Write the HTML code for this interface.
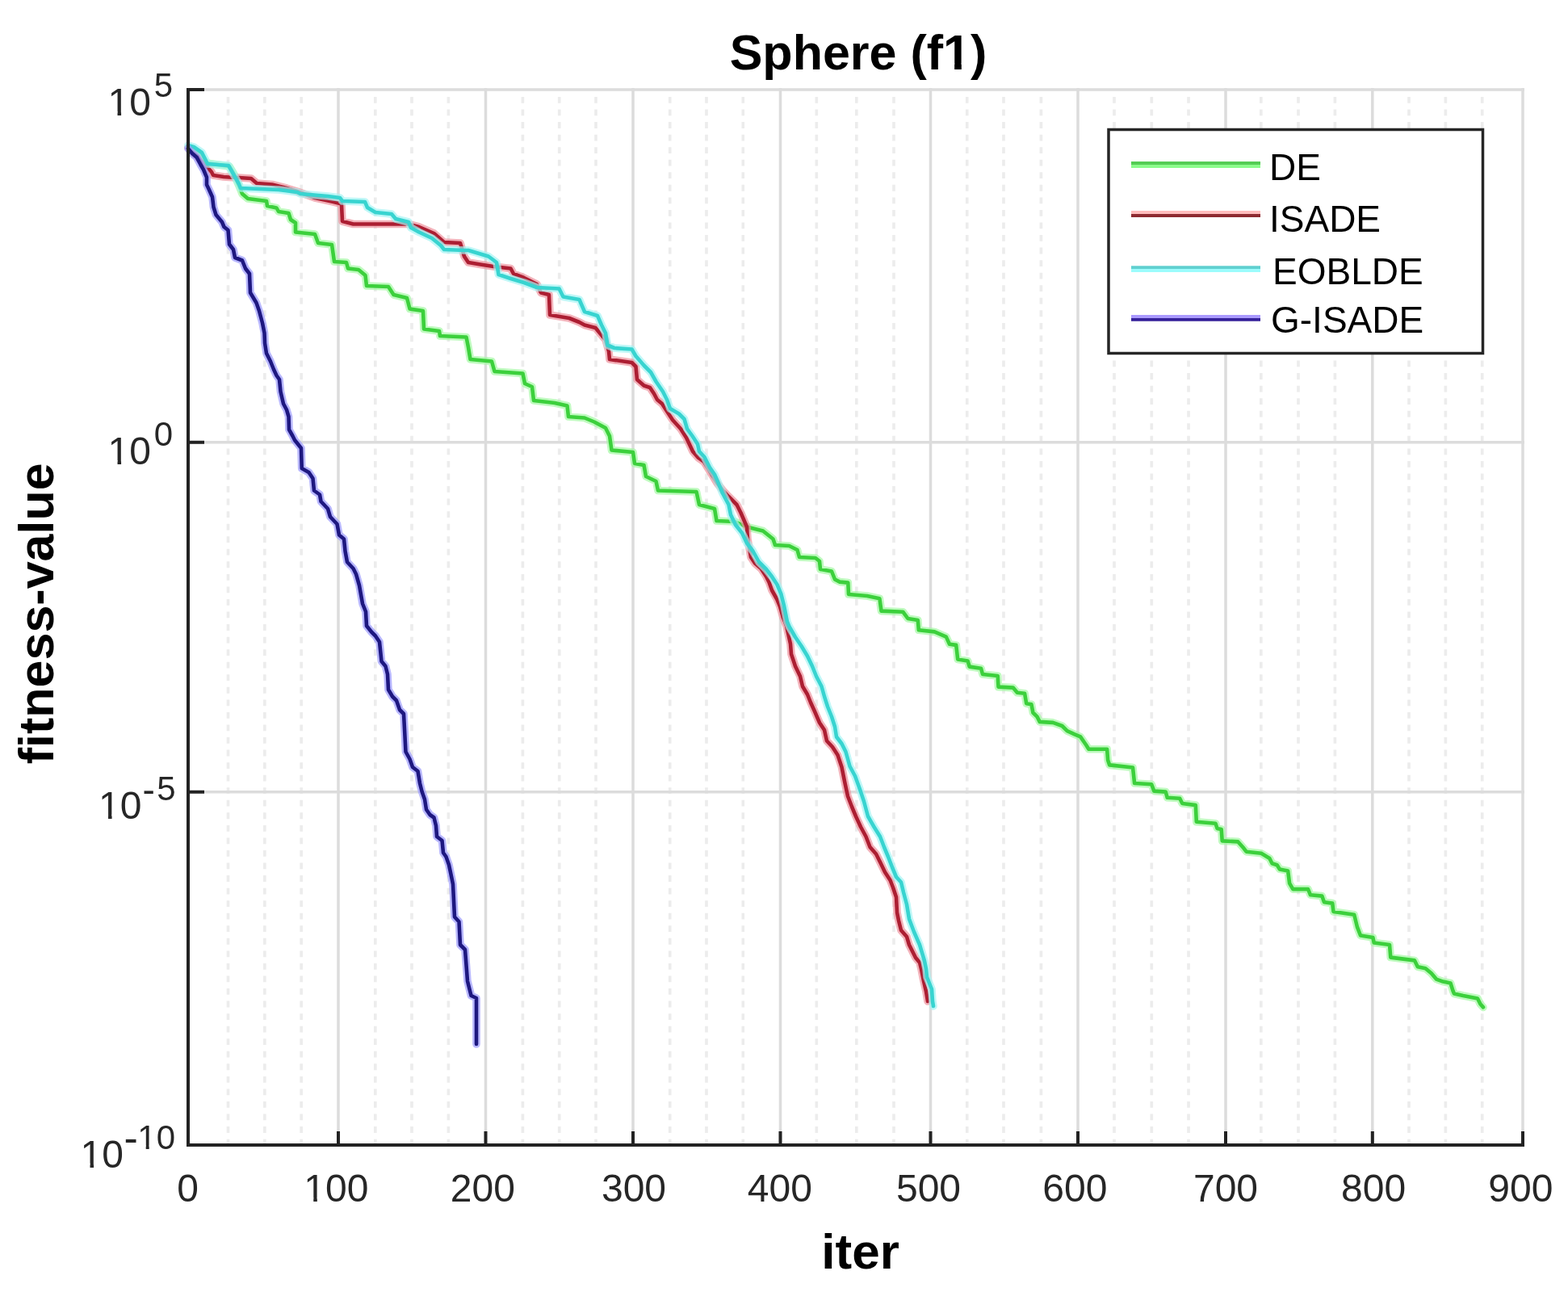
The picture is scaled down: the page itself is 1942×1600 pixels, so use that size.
<!DOCTYPE html>
<html><head><meta charset="utf-8"><title>Sphere (f1)</title>
<style>html,body{margin:0;padding:0;background:#fff;overflow:hidden}svg{display:block}</style>
</head><body>
<svg width="1942" height="1600" viewBox="0 0 1942 1600">
<rect width="100%" height="100%" fill="#fff"/>
<path d="M282.5 120V1416.0M327.8 120V1416.0M373.2 120V1416.0M464.8 120V1416.0M510.0 120V1416.0M555.4 120V1416.0M647.4 120V1416.0M692.7 120V1416.0M738.0 120V1416.0M829.7 120V1416.0M875.0 120V1416.0M920.3 120V1416.0M1011.3 120V1416.0M1060.8 120V1416.0M1107.0 120V1416.0M1197.7 120V1416.0M1243.0 120V1416.0M1289.4 120V1416.0M1380.0 120V1416.0M1426.3 120V1416.0M1472.0 120V1416.0M1561.8 120V1416.0M1608.0 120V1416.0M1653.4 120V1416.0M1745.0 120V1416.0M1790.4 120V1416.0M1835.7 120V1416.0" stroke="#ececec" stroke-width="3.6" stroke-dasharray="7.8 7.75" fill="none"/>
<path d="M419.0 109.0V1418.0M601.5 109.0V1418.0M784.0 109.0V1418.0M966.5 109.0V1418.0M1152.5 109.0V1418.0M1335.0 109.0V1418.0M1518.0 109.0V1418.0M1699.8 109.0V1418.0M1886.0 109.0V1418.0M233.0 111.0H1888.0M233.0 547.7H1888.0M233.0 980.8H1888.0" stroke="#dcdcdc" stroke-width="3.5" fill="none"/>
<path d="M233 183L245 191L256 202L284 206L290 216L296 230L300 240L307 246L330 249L331 255L342.5 257.5L345 262L357.5 264L360 272L366 276L366 287.5L390 290L394 301L411 303L414 324L429 325L431 332.5L444 334L452.5 341L454 354L481 355L487.5 365L504 369L507.5 382.5L524 385L525 407.5L544 410L545 416L577.5 417.5L580 430L582.5 445L609 447.5L612.5 460L647.5 462.5L650 475L659 479L661 496L687 499L702.5 502.5L704 516L724 517.5L736 522.5L750 530L755 540L757.5 557.5L784 560L786 574L797.5 576L800 590L812.5 596L815 607.5L862.5 609L866 625L885 630L887.5 645L910 646L925 652.5L945 657.5L957.5 667.5L960 675L977.5 676L987.5 681L990 690L1010 691L1015 695L1016 705L1030 707.5L1034 717.5L1040 720.6L1050.3 721.6L1051 736L1074 738L1089.4 741.2L1091.5 756.6L1118.3 757.7L1124.4 766L1136.8 768L1137.8 780.3L1157.4 782.4L1171.8 788.6L1176 797.8L1184.2 798.9L1186.2 816.4L1198.6 818.4L1200.7 825.6L1215 827.7L1217 835L1235.7 837L1236.5 850.6L1254.7 851.6L1259.9 857.8L1269.1 858.8L1271.2 871.2L1277.4 872.2L1279.4 882.5L1284.6 887.7L1287.7 893.9L1304.2 894.9L1315.5 899L1321.7 905.2L1330.9 909.3L1338.1 912.4L1345.3 922.7L1348.4 927.8L1371.1 927.8L1372.1 941.2L1374.2 947.4L1403 950.5L1405.1 970L1426.2 971.3L1429.3 979.6L1443.7 980.6L1445.7 987.8L1461.2 988.8L1464.3 995L1480.8 997.1L1481.8 1017.7L1505.5 1019.7L1507.5 1025.9L1512.7 1026.9L1513.7 1041.4L1533.3 1042.4L1540.5 1050.6L1543.6 1054.7L1562.1 1056.8L1572.4 1063L1575.5 1069.2L1581.7 1071.2L1584.8 1076.4L1595.1 1078.4L1597.1 1093.9L1601.3 1101.1L1620 1101L1623 1108.3L1637.3 1109.6L1640 1117.3L1650.2 1118.6L1651.5 1129L1677.2 1132.8L1681 1148.2L1685 1158.5L1700.4 1161L1701.7 1167.5L1721 1170L1722.3 1185.6L1752 1189.4L1755.8 1197.2L1765.5 1199.2L1772.7 1205.3L1778.9 1212.6L1787.1 1215.6L1796.5 1217.5L1799.5 1227L1801 1230.5L1812 1233L1830 1236.5L1833.5 1243.5L1837 1247.4" fill="none" stroke="#a4f8a4" stroke-width="9.6" stroke-linejoin="round" stroke-linecap="round" opacity="0.7"/>
<path d="M233 183L245 191L256 202L284 206L290 216L296 230L300 240L307 246L330 249L331 255L342.5 257.5L345 262L357.5 264L360 272L366 276L366 287.5L390 290L394 301L411 303L414 324L429 325L431 332.5L444 334L452.5 341L454 354L481 355L487.5 365L504 369L507.5 382.5L524 385L525 407.5L544 410L545 416L577.5 417.5L580 430L582.5 445L609 447.5L612.5 460L647.5 462.5L650 475L659 479L661 496L687 499L702.5 502.5L704 516L724 517.5L736 522.5L750 530L755 540L757.5 557.5L784 560L786 574L797.5 576L800 590L812.5 596L815 607.5L862.5 609L866 625L885 630L887.5 645L910 646L925 652.5L945 657.5L957.5 667.5L960 675L977.5 676L987.5 681L990 690L1010 691L1015 695L1016 705L1030 707.5L1034 717.5L1040 720.6L1050.3 721.6L1051 736L1074 738L1089.4 741.2L1091.5 756.6L1118.3 757.7L1124.4 766L1136.8 768L1137.8 780.3L1157.4 782.4L1171.8 788.6L1176 797.8L1184.2 798.9L1186.2 816.4L1198.6 818.4L1200.7 825.6L1215 827.7L1217 835L1235.7 837L1236.5 850.6L1254.7 851.6L1259.9 857.8L1269.1 858.8L1271.2 871.2L1277.4 872.2L1279.4 882.5L1284.6 887.7L1287.7 893.9L1304.2 894.9L1315.5 899L1321.7 905.2L1330.9 909.3L1338.1 912.4L1345.3 922.7L1348.4 927.8L1371.1 927.8L1372.1 941.2L1374.2 947.4L1403 950.5L1405.1 970L1426.2 971.3L1429.3 979.6L1443.7 980.6L1445.7 987.8L1461.2 988.8L1464.3 995L1480.8 997.1L1481.8 1017.7L1505.5 1019.7L1507.5 1025.9L1512.7 1026.9L1513.7 1041.4L1533.3 1042.4L1540.5 1050.6L1543.6 1054.7L1562.1 1056.8L1572.4 1063L1575.5 1069.2L1581.7 1071.2L1584.8 1076.4L1595.1 1078.4L1597.1 1093.9L1601.3 1101.1L1620 1101L1623 1108.3L1637.3 1109.6L1640 1117.3L1650.2 1118.6L1651.5 1129L1677.2 1132.8L1681 1148.2L1685 1158.5L1700.4 1161L1701.7 1167.5L1721 1170L1722.3 1185.6L1752 1189.4L1755.8 1197.2L1765.5 1199.2L1772.7 1205.3L1778.9 1212.6L1787.1 1215.6L1796.5 1217.5L1799.5 1227L1801 1230.5L1812 1233L1830 1236.5L1833.5 1243.5L1837 1247.4" fill="none" stroke="#3cd03c" stroke-width="4.6" stroke-linejoin="round" stroke-linecap="round"/>
<path d="M233 183L245 195L255 205L262 213L264 217L277 219L284 219.5L296 220L311 221L318 227L337 228.5L355 233L368 237L390 245L413 250L421 252L423 253L424 274L437.5 277.5L487.5 277.5L506 277.5L519 281L537.5 289L550 300L570 301L575 317.5L580 325L595 327.5L611 330L632.5 332.5L636 339L649 344L665 352L670 362.5L680 365L681 390L705 394L717.5 399L724 402.5L737.5 406L745 415L750 421L754 435L755 445L782.5 449L787.5 454L789 470L797.5 477.5L805 480L810 487.5L814 495L820 500L833 520L843 531L850 542L858 559L865 567L872 572L880 585L888 598L895 607L902.5 615L912.5 625L917.5 635L925 652.5L926 667.5L930 690L935 697.5L942.5 704L949 714L952.5 721L956 731L962.5 742.5L966 751L970 765L974 775L979 797.5L980 810L985 825L991 837.5L994 850L1000 860L1004 870L1009 881L1015 895L1021 904L1024 917.5L1031 925L1037.5 935L1042.5 950L1046 967.5L1050 986L1055 999L1060 1011L1066 1024L1072.5 1036L1077.5 1049L1085 1057.5L1090 1067.5L1096 1080L1102.5 1090L1106 1099L1110 1111L1111 1130L1113 1140L1116 1152L1123 1160L1126 1170L1131 1180L1134 1186L1139 1192L1141 1200L1144 1215L1147 1228L1149 1240" fill="none" stroke="#ee929c" stroke-width="9.6" stroke-linejoin="round" stroke-linecap="round" opacity="0.7"/>
<path d="M233 183L245 195L255 205L262 213L264 217L277 219L284 219.5L296 220L311 221L318 227L337 228.5L355 233L368 237L390 245L413 250L421 252L423 253L424 274L437.5 277.5L487.5 277.5L506 277.5L519 281L537.5 289L550 300L570 301L575 317.5L580 325L595 327.5L611 330L632.5 332.5L636 339L649 344L665 352L670 362.5L680 365L681 390L705 394L717.5 399L724 402.5L737.5 406L745 415L750 421L754 435L755 445L782.5 449L787.5 454L789 470L797.5 477.5L805 480L810 487.5L814 495L820 500L833 520L843 531L850 542L858 559L865 567L872 572L880 585L888 598L895 607L902.5 615L912.5 625L917.5 635L925 652.5L926 667.5L930 690L935 697.5L942.5 704L949 714L952.5 721L956 731L962.5 742.5L966 751L970 765L974 775L979 797.5L980 810L985 825L991 837.5L994 850L1000 860L1004 870L1009 881L1015 895L1021 904L1024 917.5L1031 925L1037.5 935L1042.5 950L1046 967.5L1050 986L1055 999L1060 1011L1066 1024L1072.5 1036L1077.5 1049L1085 1057.5L1090 1067.5L1096 1080L1102.5 1090L1106 1099L1110 1111L1111 1130L1113 1140L1116 1152L1123 1160L1126 1170L1131 1180L1134 1186L1139 1192L1141 1200L1144 1215L1147 1228L1149 1240" fill="none" stroke="#ac1e32" stroke-width="4.6" stroke-linejoin="round" stroke-linecap="round"/>
<path d="M233 180L240 182L250 189L257 203L283 205L287 212L296 228L298 233L345 235L353 236L368 238L372 240L406 243L421 245L424 249L452 250L455 257L465 263L485 265L490 271L506 275L509 282L519 287.5L535 295L546 304L550 309L575 310L580 310L605 317.5L615 325L617.5 340L632.5 345L649 350L665 356L692.5 357.5L697.5 367.5L717.5 371L724 386L740 391L745 402.5L750 412.5L752.5 427.5L761 431L782.5 432.5L787.5 441L797.5 452.5L806 461L812.5 472.5L821 485L826 495L830 506L841 512.5L847.5 519L851 531L857.5 540L864 550L866 559L872.5 566L879 579L885 587.5L890 599L895 611L902.5 625L905 637.5L911 650L919 660L925 672.5L932.5 682.5L940 696L949 705L956 714L962.5 724L967.5 736L971 750L975 770L977.5 776L985 789L992.5 800L1000 812.5L1006 825L1011 837.5L1017.5 850L1021 862.5L1025 875L1030 887.5L1034 900L1036 912.5L1042.5 921L1047.5 931L1052.5 949L1059 961L1065 977.5L1070 992.5L1075 1011L1082.5 1024L1090 1036L1095 1049L1100 1061L1105 1074L1110 1086L1116 1092.5L1119 1105L1123 1120L1126 1138L1132 1154L1139 1170L1145 1190L1147 1200L1148 1210L1154 1225L1155 1240L1156 1246" fill="none" stroke="#a4f4f4" stroke-width="9.6" stroke-linejoin="round" stroke-linecap="round" opacity="0.7"/>
<path d="M233 180L240 182L250 189L257 203L283 205L287 212L296 228L298 233L345 235L353 236L368 238L372 240L406 243L421 245L424 249L452 250L455 257L465 263L485 265L490 271L506 275L509 282L519 287.5L535 295L546 304L550 309L575 310L580 310L605 317.5L615 325L617.5 340L632.5 345L649 350L665 356L692.5 357.5L697.5 367.5L717.5 371L724 386L740 391L745 402.5L750 412.5L752.5 427.5L761 431L782.5 432.5L787.5 441L797.5 452.5L806 461L812.5 472.5L821 485L826 495L830 506L841 512.5L847.5 519L851 531L857.5 540L864 550L866 559L872.5 566L879 579L885 587.5L890 599L895 611L902.5 625L905 637.5L911 650L919 660L925 672.5L932.5 682.5L940 696L949 705L956 714L962.5 724L967.5 736L971 750L975 770L977.5 776L985 789L992.5 800L1000 812.5L1006 825L1011 837.5L1017.5 850L1021 862.5L1025 875L1030 887.5L1034 900L1036 912.5L1042.5 921L1047.5 931L1052.5 949L1059 961L1065 977.5L1070 992.5L1075 1011L1082.5 1024L1090 1036L1095 1049L1100 1061L1105 1074L1110 1086L1116 1092.5L1119 1105L1123 1120L1126 1138L1132 1154L1139 1170L1145 1190L1147 1200L1148 1210L1154 1225L1155 1240L1156 1246" fill="none" stroke="#38d4d0" stroke-width="4.6" stroke-linejoin="round" stroke-linecap="round"/>
<path d="M233 184L238 190L243.5 194.7L248.5 204L252 210L256 219.5L256 228.7L259 235L263 244L264.5 256.5L267.5 266L275 275L277.5 281L282.5 285L284 302.5L289 309L291 319L300 322.5L304 332.5L309 339L310 362.5L317.5 375L321 385L325 400L327.5 412.5L328 425L330 437.5L335 447.5L339 457.5L342.5 465L346 470L347.5 485L351 500L355 507.5L357.5 516L358 532L362.5 540L365 545L373 555L373.75 580L382.5 585L387.5 592.5L389 607.5L396 612.5L397.5 621L406 630L409 640L417.5 649L420 662.5L426 667.5L427.5 682.5L430 696L437.5 704L441 711L445 725L449 747.5L453 757.5L454 775L460 782.5L465 787.5L470 795L472.5 819L477.5 825L480 835L481 854L486 862.5L491 867.5L495 879L500 884L502.5 931L507.5 940L511 950L517.5 955L520 970L522.5 980L526 990L528 1002.5L532.5 1009L537.5 1012.5L540 1022.5L541 1036L547.5 1041L549 1056L552.5 1061L556 1071L560 1090L561 1095L563 1135.5L568.5 1141.5L570 1170L576 1176L579 1215L583.5 1233L590 1236L590 1293" fill="none" stroke="#9a98ff" stroke-width="9.6" stroke-linejoin="round" stroke-linecap="round" opacity="0.7"/>
<path d="M233 184L238 190L243.5 194.7L248.5 204L252 210L256 219.5L256 228.7L259 235L263 244L264.5 256.5L267.5 266L275 275L277.5 281L282.5 285L284 302.5L289 309L291 319L300 322.5L304 332.5L309 339L310 362.5L317.5 375L321 385L325 400L327.5 412.5L328 425L330 437.5L335 447.5L339 457.5L342.5 465L346 470L347.5 485L351 500L355 507.5L357.5 516L358 532L362.5 540L365 545L373 555L373.75 580L382.5 585L387.5 592.5L389 607.5L396 612.5L397.5 621L406 630L409 640L417.5 649L420 662.5L426 667.5L427.5 682.5L430 696L437.5 704L441 711L445 725L449 747.5L453 757.5L454 775L460 782.5L465 787.5L470 795L472.5 819L477.5 825L480 835L481 854L486 862.5L491 867.5L495 879L500 884L502.5 931L507.5 940L511 950L517.5 955L520 970L522.5 980L526 990L528 1002.5L532.5 1009L537.5 1012.5L540 1022.5L541 1036L547.5 1041L549 1056L552.5 1061L556 1071L560 1090L561 1095L563 1135.5L568.5 1141.5L570 1170L576 1176L579 1215L583.5 1233L590 1236L590 1293" fill="none" stroke="#1e1880" stroke-width="4.6" stroke-linejoin="round" stroke-linecap="round"/>
<path d="M233.0 109.0V1418.0H1888.0M419.0 1418.0V1401.0M601.5 1418.0V1401.0M784.0 1418.0V1401.0M966.5 1418.0V1401.0M1152.5 1418.0V1401.0M1335.0 1418.0V1401.0M1518.0 1418.0V1401.0M1699.8 1418.0V1401.0M1886.0 1418.0V1401.0M233.0 111.0H253.0M233.0 547.7H253.0M233.0 980.8H253.0" stroke="#222" stroke-width="4" fill="none"/>
<text x="232.6" y="1488" font-family="Liberation Sans, Arial, sans-serif" font-size="48" fill="#262626" text-anchor="middle">0</text>
<text x="416.4" y="1488" font-family="Liberation Sans, Arial, sans-serif" font-size="48" fill="#262626" text-anchor="middle">100</text>
<text x="597.8" y="1488" font-family="Liberation Sans, Arial, sans-serif" font-size="48" fill="#262626" text-anchor="middle">200</text>
<text x="785.0" y="1488" font-family="Liberation Sans, Arial, sans-serif" font-size="48" fill="#262626" text-anchor="middle">300</text>
<text x="965.9" y="1488" font-family="Liberation Sans, Arial, sans-serif" font-size="48" fill="#262626" text-anchor="middle">400</text>
<text x="1150.0" y="1488" font-family="Liberation Sans, Arial, sans-serif" font-size="48" fill="#262626" text-anchor="middle">500</text>
<text x="1331.4" y="1488" font-family="Liberation Sans, Arial, sans-serif" font-size="48" fill="#262626" text-anchor="middle">600</text>
<text x="1518.0" y="1488" font-family="Liberation Sans, Arial, sans-serif" font-size="48" fill="#262626" text-anchor="middle">700</text>
<text x="1701.1" y="1488" font-family="Liberation Sans, Arial, sans-serif" font-size="48" fill="#262626" text-anchor="middle">800</text>
<text x="1883.4" y="1488" font-family="Liberation Sans, Arial, sans-serif" font-size="48" fill="#262626" text-anchor="middle">900</text>
<text x="187" y="143" font-family="Liberation Sans, Arial, sans-serif" font-size="48" fill="#262626" text-anchor="end">10</text>
<text x="214" y="120" font-family="Liberation Sans, Arial, sans-serif" font-size="42" fill="#262626" text-anchor="end">5</text>
<text x="187" y="575" font-family="Liberation Sans, Arial, sans-serif" font-size="48" fill="#262626" text-anchor="end">10</text>
<text x="214" y="552" font-family="Liberation Sans, Arial, sans-serif" font-size="42" fill="#262626" text-anchor="end">0</text>
<text x="175.5" y="1013.5" font-family="Liberation Sans, Arial, sans-serif" font-size="48" fill="#262626" text-anchor="end">10</text>
<text x="217.5" y="990.5" font-family="Liberation Sans, Arial, sans-serif" font-size="42" fill="#262626" text-anchor="end">5</text>
<text x="176.5" y="993.5" font-family="Liberation Sans, Arial, sans-serif" font-size="46" fill="#262626">-</text>
<text x="153" y="1445.5" font-family="Liberation Sans, Arial, sans-serif" font-size="48" fill="#262626" text-anchor="end">10</text>
<text x="217" y="1423" font-family="Liberation Sans, Arial, sans-serif" font-size="42" fill="#262626" text-anchor="end">10</text>
<text x="153.5" y="1427" font-family="Liberation Sans, Arial, sans-serif" font-size="52" fill="#262626">-</text>
<text x="1063" y="85.5" font-family="Liberation Sans, Arial, sans-serif" font-size="61" font-weight="bold" fill="#000" text-anchor="middle">Sphere (f1)</text>
<text x="1065.6" y="1571.2" font-family="Liberation Sans, Arial, sans-serif" font-size="62" font-weight="bold" fill="#000" text-anchor="middle">iter</text>
<text transform="translate(66.2 759.8) rotate(-90)" font-family="Liberation Sans, Arial, sans-serif" font-size="61" font-weight="bold" fill="#000" text-anchor="middle">fitness-value</text>
<rect x="1373" y="160.5" width="463.5" height="277" fill="#fff" stroke="#262626" stroke-width="3.5"/>
<path d="M1401 202H1561" stroke="#55cc55" stroke-width="3.8" fill="none"/>
<path d="M1401 206H1561" stroke="#8cfc8c" stroke-width="3.8" fill="none"/>
<text x="1572" y="223.2" font-family="Liberation Sans, Arial, sans-serif" font-size="46" fill="#000">DE</text>
<path d="M1401 263H1561" stroke="#ffbcbc" stroke-width="3.8" fill="none"/>
<path d="M1401 267H1561" stroke="#8e2a30" stroke-width="3.8" fill="none"/>
<text x="1572" y="287" font-family="Liberation Sans, Arial, sans-serif" font-size="46" fill="#000">ISADE</text>
<path d="M1401 331.2H1561" stroke="#60d0d0" stroke-width="3.8" fill="none"/>
<path d="M1401 335H1561" stroke="#9cfcfc" stroke-width="3.8" fill="none"/>
<text x="1576" y="351.5" font-family="Liberation Sans, Arial, sans-serif" font-size="46" fill="#000">EOBLDE</text>
<path d="M1401 392H1561" stroke="#aa9aff" stroke-width="3.8" fill="none"/>
<path d="M1401 395.8H1561" stroke="#34209a" stroke-width="3.8" fill="none"/>
<text x="1574" y="412.3" font-family="Liberation Sans, Arial, sans-serif" font-size="46" fill="#000">G-ISADE</text>
<rect x="379.01" y="1483.21" width="9.26" height="5.79" fill="#fff"/>
<rect x="392.82" y="1483.21" width="8.89" height="5.79" fill="#fff"/>
<rect x="136.27" y="138.21" width="9.26" height="5.79" fill="#fff"/>
<rect x="150.07" y="138.21" width="8.89" height="5.79" fill="#fff"/>
<rect x="136.27" y="570.21" width="9.26" height="5.79" fill="#fff"/>
<rect x="150.07" y="570.21" width="8.89" height="5.79" fill="#fff"/>
<rect x="124.77" y="1008.71" width="9.26" height="5.79" fill="#fff"/>
<rect x="138.57" y="1008.71" width="8.89" height="5.79" fill="#fff"/>
<rect x="102.27" y="1440.71" width="9.26" height="5.79" fill="#fff"/>
<rect x="116.07" y="1440.71" width="8.89" height="5.79" fill="#fff"/>
<rect x="172.48" y="1418.66" width="8.21" height="5.34" fill="#fff"/>
<rect x="184.70" y="1418.66" width="7.88" height="5.34" fill="#fff"/>
<rect x="1170.89" y="78.07" width="11.25" height="8.43" fill="#fff"/>
<rect x="1190.80" y="78.07" width="10.47" height="8.43" fill="#fff"/>
</svg>
</body></html>
